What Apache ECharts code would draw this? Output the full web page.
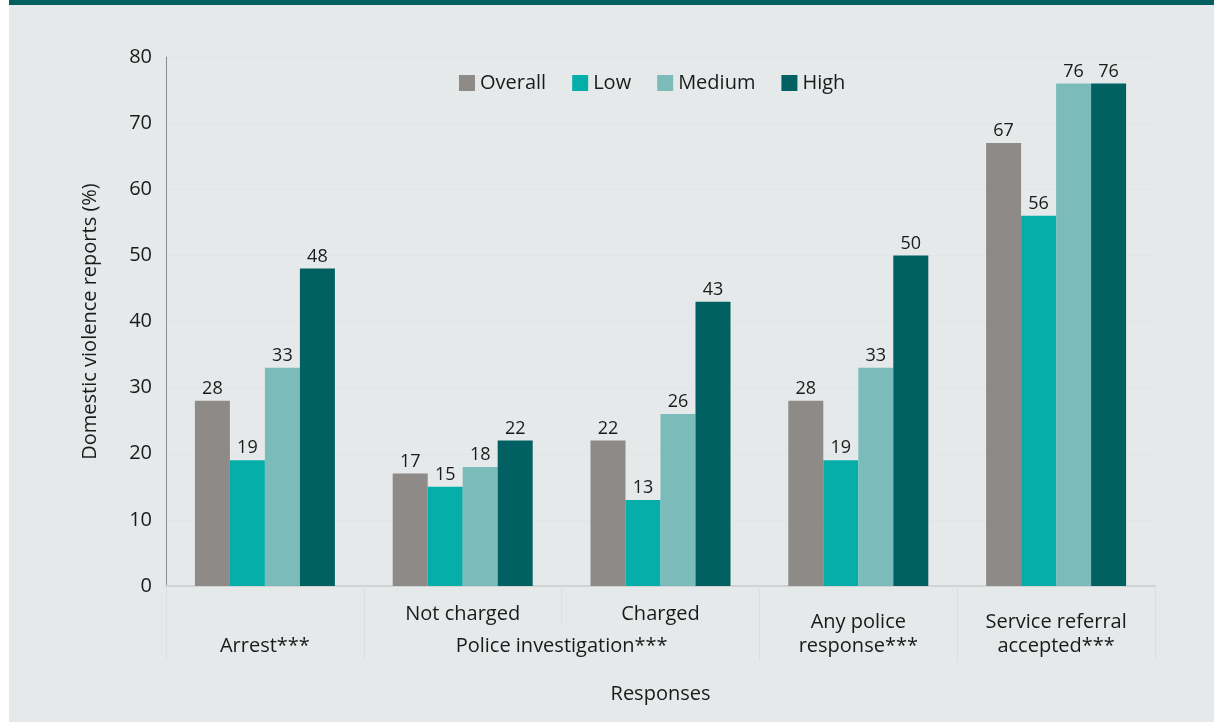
<!DOCTYPE html>
<html>
<head>
<meta charset="utf-8">
<script src="https://cdn.jsdelivr.net/npm/echarts@6/dist/echarts.min.js"></script>
<style>
  html, body { margin: 0; padding: 0; background: #ffffff; }
  #chart {
    position: absolute; left: 9px; top: 0;
    width: 1205px; height: 717px;
    border-top: 5px solid #01605f;
    background: #e5e9ea;
  }
</style>
</head>
<body>
<div id="chart"></div>
<script>
// Response categories (first label row) and the grouped heading beneath them
const categories = ['\nArrest***', 'Not charged', 'Charged', 'Any police\nresponse***', 'Service referral\naccepted***'];
const groupLabels = ['', '', 'Police investigation***', '', '', ''];

// Share of domestic violence reports (%) by risk level
const overall = [28, 17, 22, 28, 67];
const low     = [19, 15, 13, 19, 56];
const medium  = [33, 18, 26, 33, 76];
const high    = [48, 22, 43, 50, 76];

const seriesNames = ['Overall', 'Low', 'Medium', 'High'];
const seriesValues = [overall, low, medium, high];
const colours = ['#8e8a88', '#05aea9', '#7bbcbb', '#016062'];

const yTicks = { min: 0, max: 80, interval: 10 };

const font = '"Open Sans", "Noto Sans", sans-serif';
const chart = echarts.init(document.getElementById('chart'));

const twoLine = new Set([0, 3, 4]);

chart.setOption({
  backgroundColor: '#e5e9ea',
  animation: false,
  textStyle: { fontFamily: font },
  legend: {
    left: 445, top: 63,
    itemWidth: 16, itemHeight: 16, itemGap: 26,
    icon: 'rect',
    textStyle: { fontSize: 20, color: '#1a1a1a', fontFamily: font },
    data: seriesNames
  },
  grid: { left: 157, right: 59, top: 52, bottom: 136 },
  xAxis: [
    {
      type: 'category',
      data: categories.map((c, i) => ({
        value: c,
        textStyle: { padding: twoLine.has(i) ? [8, 0, 0, 0] : [0, 0, 0, 0] }
      })),
      name: 'Responses',
      nameLocation: 'middle',
      nameGap: 98,
      nameTextStyle: { fontSize: 20, color: '#1a1a1a', fontFamily: font },
      axisLine: { show: true, lineStyle: { color: '#d0d3d4', width: 2 } },
      axisTick: { show: true, length: 38, interval: 0, lineStyle: { color: '#dcdfe0' } },
      axisLabel: {
        interval: 0, margin: 16, fontSize: 20, lineHeight: 24,
        color: '#1a1a1a', fontFamily: font
      },
      splitLine: { show: false }
    },
    {
      type: 'category',
      data: groupLabels,
      boundaryGap: false,
      position: 'bottom',
      axisLine: { show: false },
      axisTick: {
        show: true, length: 75,
        interval: (idx) => idx !== 2,
        lineStyle: { color: '#dcdfe0' }
      },
      axisLabel: {
        interval: 0, margin: 48, fontSize: 20, lineHeight: 24,
        color: '#1a1a1a', fontFamily: font
      },
      splitLine: { show: false }
    }
  ],
  yAxis: {
    type: 'value',
    min: yTicks.min, max: yTicks.max, interval: yTicks.interval,
    name: 'Domestic violence reports (%)',
    nameLocation: 'middle',
    nameGap: 66,
    nameTextStyle: { fontSize: 20, color: '#1a1a1a', fontFamily: font },
    axisLine: { show: true, lineStyle: { color: '#8c8c8c', width: 1 } },
    axisTick: { show: false },
    axisLabel: { fontSize: 20, color: '#1a1a1a', margin: 14, fontFamily: font },
    splitLine: { show: true, lineStyle: { color: '#e2e5e6', width: 1 } }
  },
  series: seriesNames.map((name, i) => ({
    name,
    type: 'bar',
    xAxisIndex: 0,
    data: seriesValues[i],
    barWidth: 35,
    barGap: '0%',
    itemStyle: { color: colours[i] },
    label: {
      show: true, position: 'top', distance: 3,
      fontSize: 18, color: '#1a1a1a', fontFamily: font
    }
  }))
});
</script>
</body>
</html>
